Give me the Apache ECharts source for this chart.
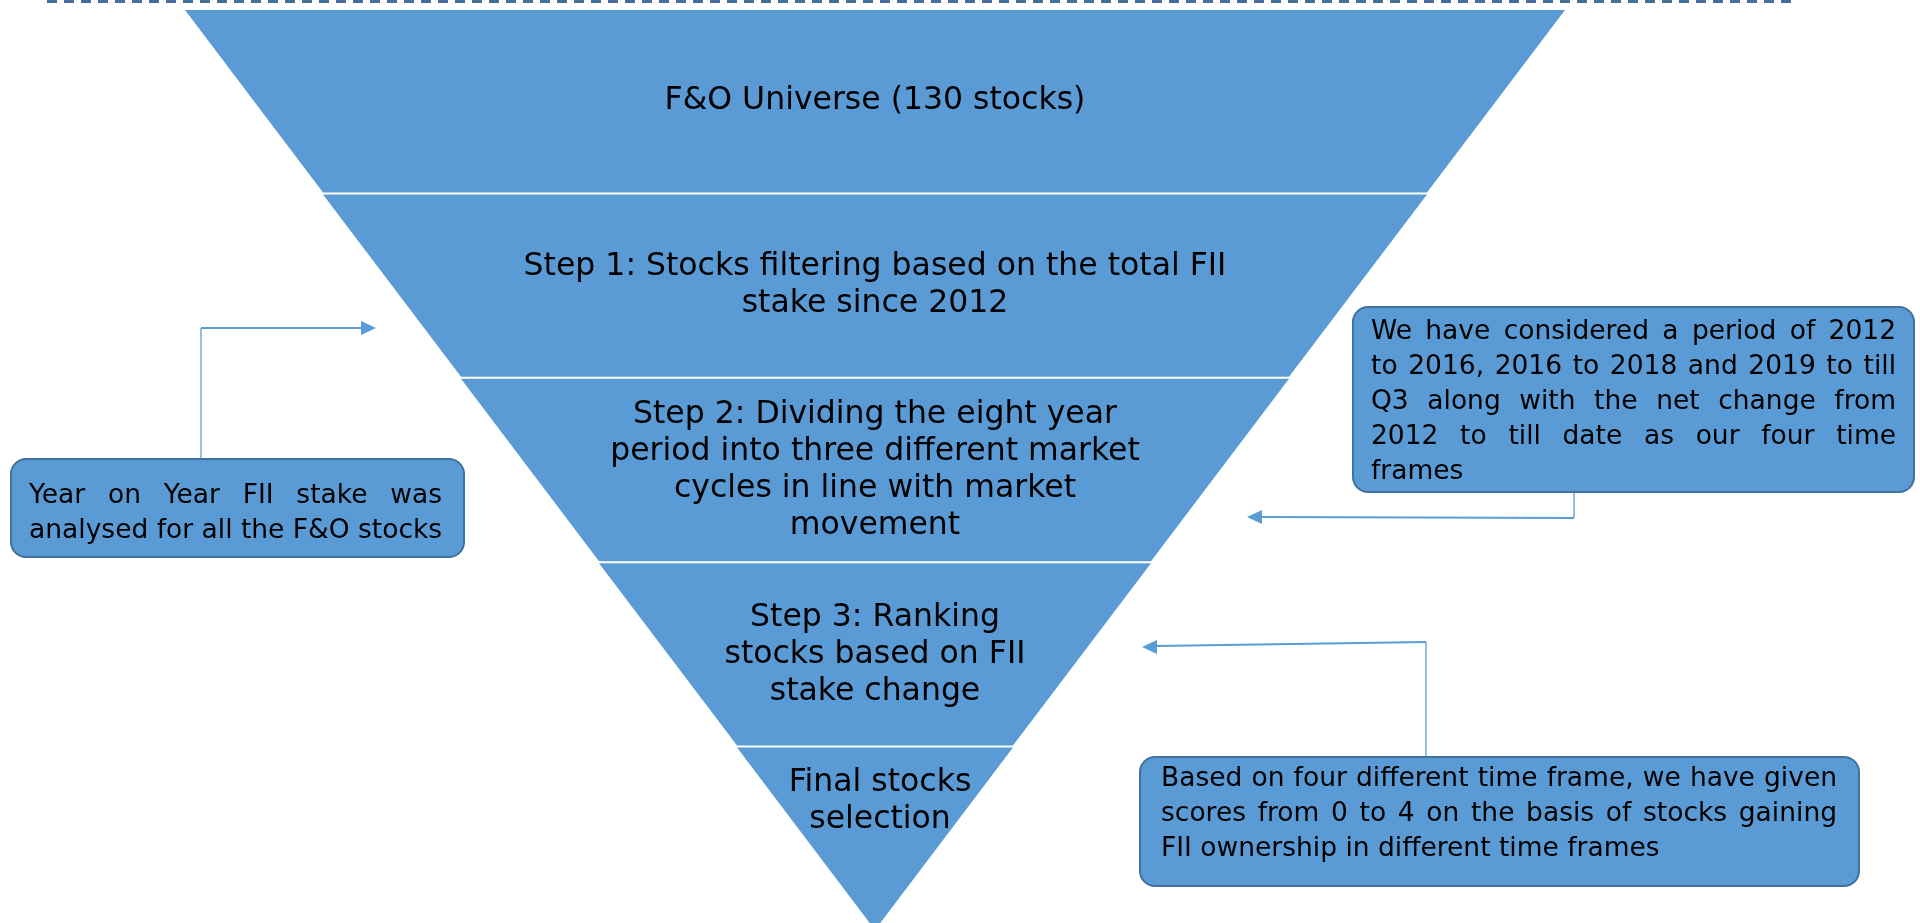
<!DOCTYPE html>
<html>
<head>
<meta charset="utf-8">
<script src="https://cdn.jsdelivr.net/npm/echarts@6/dist/echarts.min.js"></script>
<style>
  html, body { margin: 0; padding: 0; background: #fff; }
  #main { width: 1920px; height: 923px; }
</style>
</head>
<body>
<div id="main"></div>
<script>
// funnel layers, top to bottom
const stepNames = [
  'F&O Universe (130 stocks)',
  'Step 1: Stocks filtering based on the total FII\nstake since 2012',
  'Step 2: Dividing the eight year\nperiod into three different market\ncycles in line with market\nmovement',
  'Step 3: Ranking\nstocks based on FII\nstake change',
  'Final stocks\nselection'
]
const stepSizes = [100, 80, 60, 40, 20]

// callout notes (one entry per printed line)
const noteYoY = ['Year on Year FII stake was', 'analysed for all the F&O stocks']
const notePeriods = [
  'We have considered a period of 2012',
  'to 2016, 2016 to 2018 and 2019 to till',
  'Q3 along with the net change from',
  '2012 to till date as our four time',
  'frames'
]
const noteScores = [
  'Based on four different time frame, we have given',
  'scores from 0 to 4 on the basis of stocks gaining',
  'FII ownership in different time frames'
]

const FONT = '"DejaVu Sans", Verdana, sans-serif'
const BLUE = '#5B9BD5'
const EDGE = '#41719C'
const measure = document.createElement('canvas').getContext('2d')

function word (s, x, base, size) {
  return {
    type: 'text',
    x: x,
    y: base - size * 0.35,
    silent: true,
    style: { text: s, fill: '#000', fontSize: size, fontFamily: FONT, verticalAlign: 'middle' }
  }
}

// justified lines like the original text boxes, last line left aligned
function noteText (lines, left, right, firstBase, step, size) {
  measure.font = size + 'px ' + FONT
  let out = []
  lines.forEach((line, i) => {
    let base = firstBase + i * step
    let words = line.split(' ')
    if (i === lines.length - 1 || words.length < 2) {
      out.push(word(line, left, base, size))
      return
    }
    let used = words.reduce((s, w) => s + measure.measureText(w).width, 0)
    let space = (right - left - used) / (words.length - 1)
    let x = left
    words.forEach(w => {
      out.push(word(w, x, base, size))
      x += measure.measureText(w).width + space
    })
  })
  return out
}

function box (x, y, w, h) {
  return {
    type: 'rect',
    shape: { x: x, y: y, width: w, height: h, r: 15 },
    style: { fill: BLUE, stroke: EDGE, lineWidth: 2 }
  }
}

function seg (x1, y1, x2, y2, width) {
  return {
    type: 'line',
    shape: { x1: x1, y1: y1, x2: x2, y2: y2 },
    style: { stroke: BLUE, lineWidth: width }
  }
}

function head (tipX, tipY, dir) {
  return {
    type: 'polygon',
    shape: { points: [[tipX, tipY], [tipX - dir * 15, tipY - 7], [tipX - dir * 15, tipY + 7]] },
    style: { fill: BLUE }
  }
}

let chart = echarts.init(document.getElementById('main'))

let funnelData = stepSizes.map((v, i) => ({ value: v, name: stepNames[i] }))

let graphics = [
  {
    type: 'line',
    shape: { x1: 47, y1: 1.5, x2: 1796, y2: 1.5 },
    style: { stroke: EDGE, lineWidth: 3, lineDash: [10, 7] }
  },
  // left note
  seg(201, 459, 201, 328, 1.3),
  seg(201, 328, 362, 328, 2),
  head(376, 328, 1),
  box(11, 459, 453, 98),
  // right note
  seg(1574, 492, 1574, 518, 1.3),
  seg(1574, 518, 1262, 517, 2),
  head(1247, 517, -1),
  box(1353, 307, 561, 185),
  // bottom note
  seg(1426, 757, 1426, 642, 1.3),
  seg(1426, 642, 1157, 646, 2),
  head(1142, 647, -1),
  box(1140, 757, 719, 129)
]
graphics = graphics
  .concat(noteText(noteYoY, 29, 442, 505, 35, 26.5))
  .concat(noteText(notePeriods, 1371, 1896, 341, 35, 26.5))
  .concat(noteText(noteScores, 1161, 1837, 788, 35, 26.5))

chart.setOption({
  animation: false,
  series: [{
    type: 'funnel',
    left: 185,
    top: 10,
    width: 1380,
    height: 920,
    min: 0,
    max: 100,
    minSize: '0%',
    maxSize: '100%',
    sort: 'descending',
    gap: 2,
    silent: true,
    label: {
      show: true,
      position: 'inside',
      color: '#000',
      fontSize: 31.5,
      lineHeight: 37,
      fontFamily: FONT,
      textBorderWidth: 0,
      // the tip layer keeps its text in the upper, wider part
      formatter: function (p) {
        if (p.dataIndex !== stepNames.length - 1) return p.name
        return p.name.split('\n').map(l => ' ' + l).join('\n') + '\n \n '
      }
    },
    labelLine: { show: false },
    itemStyle: { color: BLUE, borderWidth: 0 },
    emphasis: { disabled: true },
    data: funnelData
  }],
  graphic: graphics
})
</script>
</body>
</html>
